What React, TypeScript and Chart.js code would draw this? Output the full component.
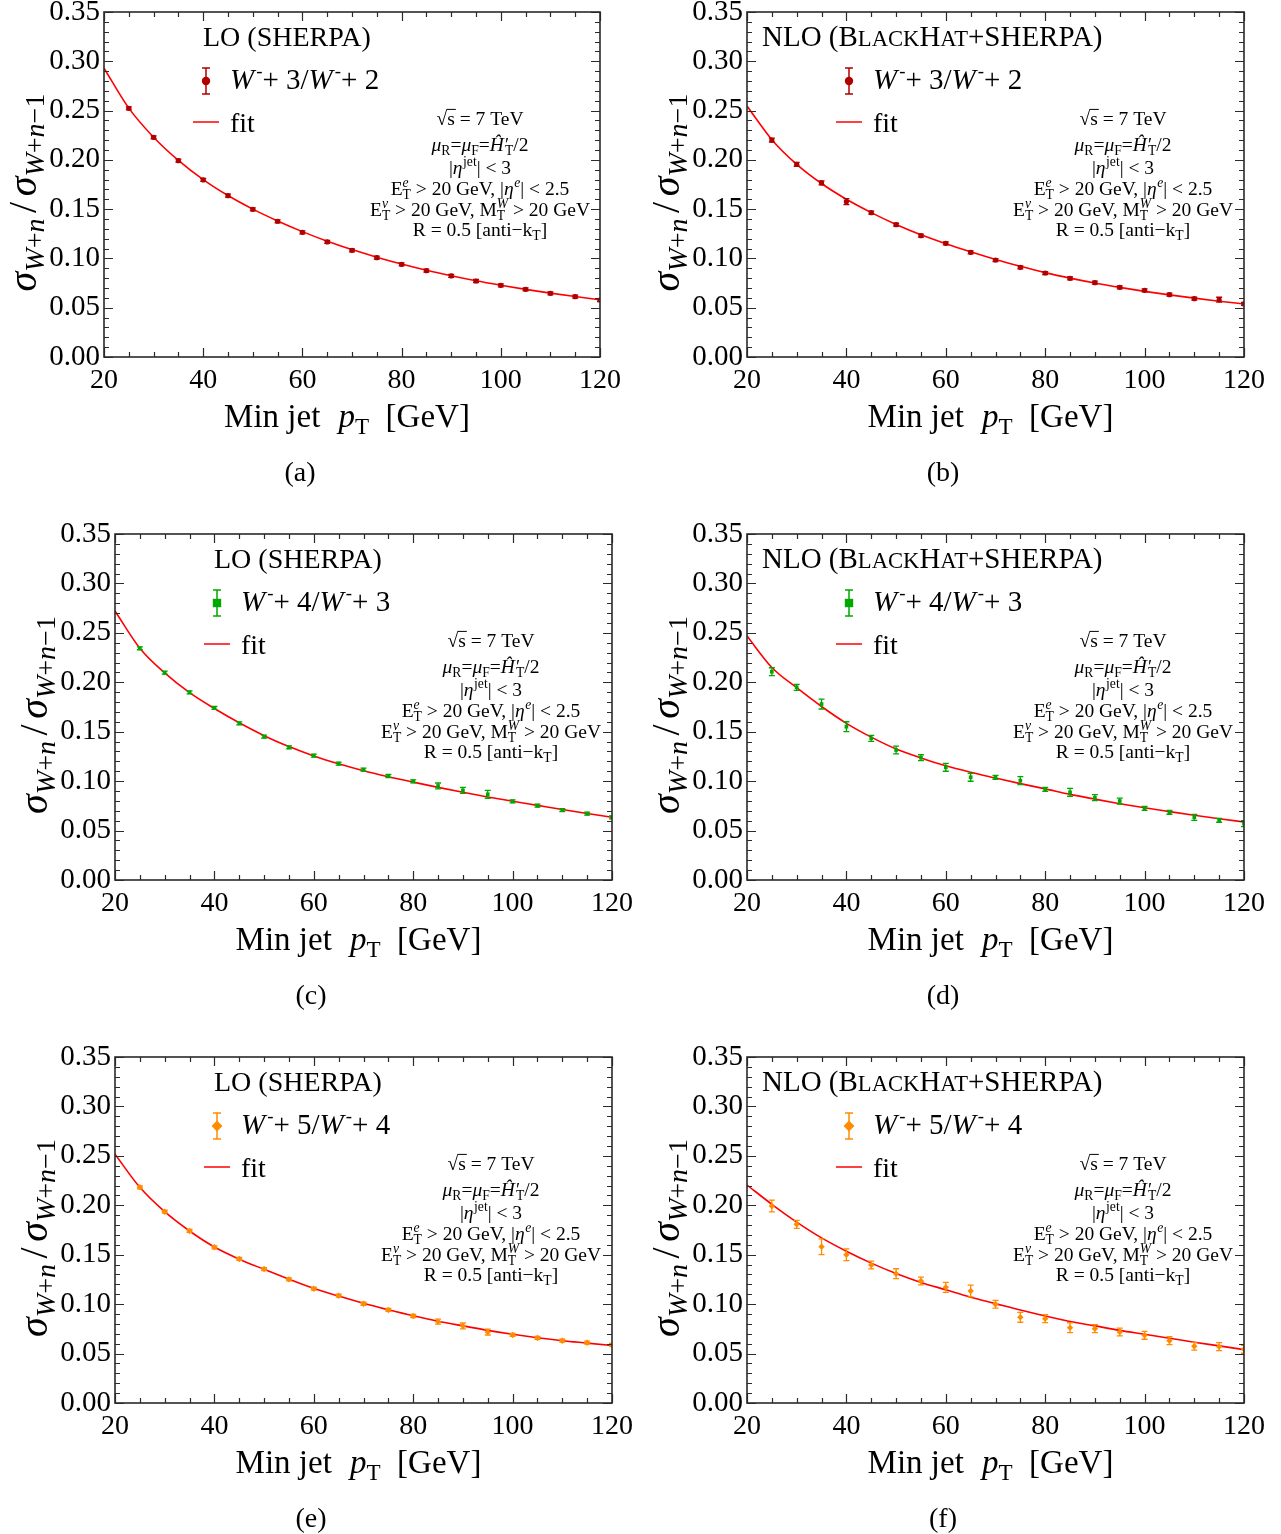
import { useEffect, useRef } from 'react';
import { Chart, registerables } from 'chart.js';
Chart.register(...registerables);

const SERIF = "'Liberation Serif', 'Times New Roman', 'DejaVu Serif', serif";

// ---------- data ----------
const ptX = [25, 30, 35, 40, 45, 50, 55, 60, 65, 70, 75, 80, 85, 90, 95, 100, 105, 110, 115, 120];
const fitX = [20, 25, 30, 35, 40, 45, 50, 55, 60, 65, 70, 75, 80, 85, 90, 95, 100, 105, 110, 115, 120];
const xTicks = [20, 40, 60, 80, 100, 120];
const xTickLabels = ['20', '40', '60', '80', '100', '120'];
const yTicks = [0, 0.05, 0.1, 0.15, 0.2, 0.25, 0.3, 0.35];
const yTickLabels = ['0.00', '0.05', '0.10', '0.15', '0.20', '0.25', '0.30', '0.35'];

// (a) LO W+3/W+2
const lo3 = [0.2523, 0.2229, 0.1992, 0.1796, 0.1637, 0.1498, 0.1377, 0.1265, 0.1167, 0.1082, 0.1008, 0.0940, 0.0876, 0.0822, 0.0771, 0.0727, 0.0687, 0.0646, 0.0612, 0.0578];
const lo3Err = [0.0015, 0.0015, 0.0015, 0.0015, 0.0015, 0.0015, 0.0015, 0.0015, 0.0015, 0.0015, 0.0015, 0.0015, 0.0015, 0.0015, 0.0015, 0.0015, 0.0015, 0.0015, 0.0015, 0.0015];
const lo3Fit = [0.2930, 0.2525, 0.2230, 0.1995, 0.1800, 0.1638, 0.1500, 0.1380, 0.1272, 0.1175, 0.1090, 0.1013, 0.0943, 0.0880, 0.0824, 0.0773, 0.0728, 0.0686, 0.0648, 0.0613, 0.0580];

// (b) NLO W+3/W+2
const nlo3 = [0.2201, 0.1955, 0.1766, 0.1576, 0.1464, 0.1342, 0.1231, 0.1153, 0.1062, 0.0984, 0.0910, 0.0852, 0.0798, 0.0754, 0.0707, 0.0676, 0.0632, 0.0592, 0.0581, 0.0538];
const nlo3Err = [0.002, 0.002, 0.002, 0.003, 0.0015, 0.0015, 0.0015, 0.0015, 0.0015, 0.0015, 0.0015, 0.0015, 0.0015, 0.0015, 0.0015, 0.0015, 0.0015, 0.0015, 0.0025, 0.0015];
const nlo3Fit = [0.2546, 0.2205, 0.1955, 0.1760, 0.1600, 0.1465, 0.1345, 0.1240, 0.1150, 0.1068, 0.0990, 0.0920, 0.0856, 0.0800, 0.0750, 0.0706, 0.0666, 0.0630, 0.0597, 0.0566, 0.0538];

// (c) LO W+4/W+3
const lo4 = [0.2344, 0.2097, 0.1898, 0.1740, 0.1585, 0.1450, 0.1342, 0.1258, 0.1177, 0.1116, 0.1052, 0.0998, 0.0951, 0.0907, 0.0867, 0.0796, 0.0752, 0.0708, 0.0671, 0.0634];
const lo4Err = [0.0015, 0.0015, 0.0015, 0.0015, 0.0015, 0.0015, 0.0015, 0.0015, 0.0015, 0.0015, 0.0015, 0.0015, 0.003, 0.003, 0.004, 0.0015, 0.0015, 0.0015, 0.0015, 0.0015];
const lo4Fit = [0.2721, 0.2345, 0.2095, 0.1895, 0.1735, 0.1590, 0.1460, 0.1350, 0.1255, 0.1175, 0.1105, 0.1045, 0.0990, 0.0937, 0.0887, 0.0840, 0.0797, 0.0755, 0.0713, 0.0673, 0.0635];

// (d) NLO W+4/W+3
const nlo4 = [0.2107, 0.1949, 0.1780, 0.1551, 0.1433, 0.1315, 0.1237, 0.1140, 0.1039, 0.1039, 0.1005, 0.0917, 0.0887, 0.0833, 0.0799, 0.0725, 0.0685, 0.0634, 0.0604, 0.0570];
const nlo4Err = [0.004, 0.003, 0.005, 0.005, 0.003, 0.004, 0.003, 0.004, 0.004, 0.002, 0.004, 0.002, 0.004, 0.003, 0.003, 0.002, 0.002, 0.003, 0.002, 0.003];
const nlo4Fit = [0.2468, 0.2150, 0.1945, 0.1755, 0.1585, 0.1445, 0.1325, 0.1235, 0.1155, 0.1090, 0.1032, 0.0975, 0.0922, 0.0866, 0.0818, 0.0772, 0.0730, 0.0692, 0.0655, 0.0620, 0.0587];

// (e) LO W+5/W+4
const lo5 = [0.2182, 0.1935, 0.1740, 0.1575, 0.1457, 0.1355, 0.1251, 0.1156, 0.1085, 0.1004, 0.0941, 0.0880, 0.0823, 0.0779, 0.0718, 0.0688, 0.0658, 0.0630, 0.0610, 0.0587];
const lo5Err = [0.0015, 0.0015, 0.0015, 0.0015, 0.0015, 0.0015, 0.0015, 0.0015, 0.0015, 0.0015, 0.0015, 0.0015, 0.0025, 0.003, 0.003, 0.0015, 0.0015, 0.0015, 0.0015, 0.0015];
const lo5Fit = [0.2516, 0.2182, 0.1935, 0.1740, 0.1578, 0.1455, 0.1352, 0.1252, 0.1158, 0.1082, 0.1008, 0.0943, 0.0882, 0.0827, 0.0780, 0.0735, 0.0695, 0.0660, 0.0630, 0.0606, 0.0582];

// (f) NLO W+5/W+4
const nlo5 = [0.1993, 0.1807, 0.1581, 0.1500, 0.1396, 0.1308, 0.1234, 0.1170, 0.1133, 0.0999, 0.0867, 0.0853, 0.0762, 0.0752, 0.0718, 0.0685, 0.0630, 0.0574, 0.0570, 0.0543];
const nlo5Err = [0.006, 0.004, 0.008, 0.006, 0.004, 0.005, 0.004, 0.005, 0.006, 0.004, 0.005, 0.004, 0.005, 0.004, 0.004, 0.004, 0.004, 0.004, 0.004, 0.004];
const nlo5Fit = [0.2205, 0.2010, 0.1830, 0.1670, 0.1535, 0.1415, 0.1310, 0.1220, 0.1145, 0.1070, 0.1005, 0.0940, 0.0880, 0.0825, 0.0780, 0.0735, 0.0695, 0.0655, 0.0615, 0.0578, 0.0540];

// ---------- rich text ----------
type Seg = { t?: string; it?: boolean; sc?: number; dy?: number; gap?: number; over?: boolean; sup?: Seg; sub?: Seg };

function fnt(s: Seg, base: number) {
  return `${s.it ? 'italic ' : ''}${(base * (s.sc ?? 1)).toFixed(2)}px ${SERIF}`;
}
function segW(ctx: CanvasRenderingContext2D, s: Seg, base: number): number {
  if (s.sup || s.sub) {
    return Math.max(s.sup ? segW(ctx, s.sup, base) : 0, s.sub ? segW(ctx, s.sub, base) : 0) + (s.gap ?? 0) * base;
  }
  ctx.font = fnt(s, base);
  return ctx.measureText(s.t ?? '').width + (s.gap ?? 0) * base;
}
function drawSeg(ctx: CanvasRenderingContext2D, s: Seg, x: number, y: number, base: number) {
  if (s.sup || s.sub) {
    if (s.sup) drawSeg(ctx, s.sup, x, y, base);
    if (s.sub) drawSeg(ctx, s.sub, x, y, base);
    return;
  }
  ctx.font = fnt(s, base);
  const yy = y + (s.dy ?? 0) * base;
  ctx.fillText(s.t ?? '', x, yy);
  if (s.over) {
    const w = ctx.measureText(s.t ?? '').width;
    ctx.beginPath();
    ctx.lineWidth = 1;
    ctx.strokeStyle = '#000';
    ctx.moveTo(x - 0.5, yy - 0.8 * base);
    ctx.lineTo(x + w + 1, yy - 0.8 * base);
    ctx.stroke();
  }
}
function drawRich(ctx: CanvasRenderingContext2D, segs: Seg[], x: number, y: number, base: number, align: 'left' | 'center') {
  ctx.textAlign = 'left';
  ctx.textBaseline = 'alphabetic';
  ctx.fillStyle = '#000';
  const widths = segs.map((s) => segW(ctx, s, base));
  const total = widths.reduce((a, b) => a + b, 0);
  let cx = align === 'center' ? x - total / 2 : x;
  segs.forEach((s, i) => {
    drawSeg(ctx, s, cx, y, base);
    cx += widths[i];
  });
}

const subT: Seg = { t: 'T', sc: 0.7, dy: 0.22 };
const infoLines: Seg[][] = [
  [{ t: '√' }, { t: 's', over: true }, { t: ' = 7 TeV' }],
  [{ t: 'μ', it: true }, { t: 'R', sc: 0.7, dy: 0.22 }, { t: '=' }, { t: 'μ', it: true }, { t: 'F', sc: 0.7, dy: 0.22 }, { t: '=' }, { t: 'Ĥ', it: true, gap: 0.06 }, { sup: { t: '′', sc: 0.95, dy: -0.02 }, sub: subT }, { t: '/2' }],
  [{ t: '|' }, { t: 'η', it: true, gap: 0.03 }, { t: 'jet', sc: 0.7, dy: -0.42 }, { t: '| < 3' }],
  [{ t: 'E' }, { sup: { t: 'e', it: true, sc: 0.7, dy: -0.42 }, sub: subT }, { t: ' > 20 GeV, |' }, { t: 'η', it: true, gap: 0.03 }, { t: 'e', it: true, sc: 0.7, dy: -0.42 }, { t: '| < 2.5' }],
  [{ t: 'E' }, { sup: { t: 'ν', it: true, sc: 0.7, dy: -0.42 }, sub: subT }, { t: ' > 20 GeV, M' }, { sup: { t: 'W', it: true, sc: 0.7, dy: -0.42 }, sub: subT }, { t: ' > 20 GeV' }],
  [{ t: 'R = 0.5 [anti−k' }, subT, { t: ']' }],
];
const infoBaselines = [113, 139, 162, 183, 204, 224];

const yTitle: Seg[] = [
  { t: 'σ', it: true },
  { t: 'W', it: true, sc: 0.7, dy: 0.2 },
  { t: '+', sc: 0.7, dy: 0.2 },
  { t: 'n', it: true, sc: 0.7, dy: 0.2, gap: 0.14 },
  { t: '/', gap: 0.14 },
  { t: 'σ', it: true },
  { t: 'W', it: true, sc: 0.7, dy: 0.2 },
  { t: '+', sc: 0.7, dy: 0.2 },
  { t: 'n', it: true, sc: 0.7, dy: 0.2 },
  { t: '−1', sc: 0.7, dy: 0.2 },
];
const xTitle: Seg[] = [{ t: 'Min jet', gap: 0.55 }, { t: 'p', it: true }, { t: 'T', sc: 0.7, dy: 0.22, gap: 0.5 }, { t: '[GeV]' }];
const loTitle: Seg[] = [{ t: 'LO (SHERPA)' }];
const nloTitle: Seg[] = [{ t: 'NLO (B' }, { t: 'LACK', sc: 0.78 }, { t: 'H' }, { t: 'AT', sc: 0.78 }, { t: '+SHERPA)' }];
const seriesLabel = (a: string, b: string): Seg[] => [
  { t: 'W', it: true, gap: 0.07 }, { t: '-', sc: 0.65, dy: -0.42 }, { t: '+ ' + a + '/' },
  { t: 'W', it: true, gap: 0.07 }, { t: '-', sc: 0.65, dy: -0.42 }, { t: '+ ' + b },
];

// ---------- panels ----------
type PanelCfg = {
  cx: number; cy: number; cw: number; ch: number;
  L: number; R: number; T: number; B: number;
  caption: string; capX: number; nlo: boolean;
  vals: number[]; errs: number[]; fit: number[];
  color: string; marker: 'circle' | 'rect' | 'rectRot'; label: Seg[];
};

const DARKRED = '#b00000';
const GREEN = '#00a800';
const ORANGE = '#ff8c00';

const panels: PanelCfg[] = [
  { cx: 0, cy: -30, cw: 640, ch: 530, L: 104, R: 600, T: 12, B: 357, caption: '(a)', capX: 300, nlo: false, vals: lo3, errs: lo3Err, fit: lo3Fit, color: DARKRED, marker: 'circle', label: seriesLabel('3', '2') },
  { cx: 640, cy: -30, cw: 641, ch: 530, L: 747, R: 1244, T: 12, B: 357, caption: '(b)', capX: 943, nlo: true, vals: nlo3, errs: nlo3Err, fit: nlo3Fit, color: DARKRED, marker: 'circle', label: seriesLabel('3', '2') },
  { cx: 0, cy: 495, cw: 640, ch: 528, L: 115, R: 612, T: 534, B: 880, caption: '(c)', capX: 311, nlo: false, vals: lo4, errs: lo4Err, fit: lo4Fit, color: GREEN, marker: 'rect', label: seriesLabel('4', '3') },
  { cx: 640, cy: 495, cw: 641, ch: 528, L: 747, R: 1244, T: 534, B: 880, caption: '(d)', capX: 943, nlo: true, vals: nlo4, errs: nlo4Err, fit: nlo4Fit, color: GREEN, marker: 'rect', label: seriesLabel('4', '3') },
  { cx: 0, cy: 1018, cw: 640, ch: 516, L: 115, R: 612, T: 1057, B: 1403, caption: '(e)', capX: 311, nlo: false, vals: lo5, errs: lo5Err, fit: lo5Fit, color: ORANGE, marker: 'rectRot', label: seriesLabel('5', '4') },
  { cx: 640, cy: 1018, cw: 641, ch: 516, L: 747, R: 1244, T: 1057, B: 1403, caption: '(f)', capX: 943, nlo: true, vals: nlo5, errs: nlo5Err, fit: nlo5Fit, color: ORANGE, marker: 'rectRot', label: seriesLabel('5', '4') },
];

function drawMarker(ctx: CanvasRenderingContext2D, style: string, x: number, y: number, r: number, color: string) {
  ctx.fillStyle = color;
  ctx.beginPath();
  if (style === 'circle') {
    ctx.arc(x, y, r, 0, Math.PI * 2);
  } else if (style === 'rect') {
    ctx.rect(x - r, y - r, 2 * r, 2 * r);
  } else {
    const d = r * 1.3;
    ctx.moveTo(x, y - d); ctx.lineTo(x + d, y); ctx.lineTo(x, y + d); ctx.lineTo(x - d, y); ctx.closePath();
  }
  ctx.fill();
}

function makeDecor(p: PanelCfg) {
  return {
    id: 'decor' + p.caption,
    afterDatasetsDraw(chart: any) {
      const ctx: CanvasRenderingContext2D = chart.ctx;
      const { left, right, top, bottom } = chart.chartArea;
      const xs = chart.scales.x;
      const ys = chart.scales.y;
      // error bars
      ctx.save();
      ctx.beginPath();
      ctx.rect(left, top, right - left, bottom - top);
      ctx.clip();
      ctx.strokeStyle = p.color;
      ctx.lineWidth = 1.3;
      p.vals.forEach((v, i) => {
        const px = xs.getPixelForValue(ptX[i]);
        const y1 = ys.getPixelForValue(v - p.errs[i]);
        const y2 = ys.getPixelForValue(v + p.errs[i]);
        ctx.beginPath();
        ctx.moveTo(px, y1); ctx.lineTo(px, y2);
        ctx.moveTo(px - 3, y1); ctx.lineTo(px + 3, y1);
        ctx.moveTo(px - 3, y2); ctx.lineTo(px + 3, y2);
        ctx.stroke();
      });
      ctx.restore();

      // frame and ticks
      ctx.save();
      ctx.strokeStyle = '#2a2a2a';
      ctx.lineWidth = 1.2;
      ctx.beginPath();
      for (let k = 0; k <= 20; k++) {
        const v = 20 + k * 5;
        const px = Math.round(xs.getPixelForValue(v)) + 0.5;
        const len = k % 4 === 0 ? 9 : 5;
        ctx.moveTo(px, bottom); ctx.lineTo(px, bottom - len);
        ctx.moveTo(px, top); ctx.lineTo(px, top + len);
      }
      for (let k = 0; k <= 35; k++) {
        const py = Math.round(ys.getPixelForValue(k / 100)) + 0.5;
        const len = k % 5 === 0 ? 9 : 5;
        ctx.moveTo(left, py); ctx.lineTo(left + len, py);
        ctx.moveTo(right, py); ctx.lineTo(right - len, py);
      }
      ctx.stroke();
      ctx.lineWidth = 1.6;
      ctx.strokeRect(left, top, right - left, bottom - top);
      ctx.restore();
    },
    afterDraw(chart: any) {
      const ctx: CanvasRenderingContext2D = chart.ctx;
      const { left, right, top, bottom } = chart.chartArea;
      ctx.save();
      // y title
      ctx.save();
      ctx.translate(left - 68, (top + bottom) / 2 + 8);
      ctx.rotate(-Math.PI / 2);
      drawRich(ctx, yTitle, 0, 0, 40, 'center');
      ctx.restore();
      // x title
      drawRich(ctx, xTitle, (left + right) / 2 - 5, bottom + 70, 33, 'center');
      // caption
      drawRich(ctx, [{ t: p.caption }], p.capX - p.cx, bottom + 124, 28, 'center');
      // legend
      if (p.nlo) drawRich(ctx, nloTitle, left + 15, top + 34, 29, 'left');
      else drawRich(ctx, loTitle, left + 99, top + 34, 28, 'left');
      const mx = left + 102;
      const my = top + 69;
      ctx.strokeStyle = p.color;
      ctx.lineWidth = 1.5;
      ctx.beginPath();
      ctx.moveTo(mx, my - 13); ctx.lineTo(mx, my + 13);
      ctx.moveTo(mx - 4, my - 13); ctx.lineTo(mx + 4, my - 13);
      ctx.moveTo(mx - 4, my + 13); ctx.lineTo(mx + 4, my + 13);
      ctx.stroke();
      drawMarker(ctx, p.marker, mx, my, 4.2, p.color);
      drawRich(ctx, p.label, left + 126, top + 77, 29, 'left');
      ctx.strokeStyle = '#ff0000';
      ctx.lineWidth = 1.5;
      ctx.beginPath();
      ctx.moveTo(left + 89, top + 110); ctx.lineTo(left + 115, top + 110);
      ctx.stroke();
      drawRich(ctx, [{ t: 'fit' }], left + 126, top + 120, 28, 'left');
      // info block
      infoLines.forEach((line, i) => drawRich(ctx, line, left + 376, top + infoBaselines[i], 19.5, 'center'));
      ctx.restore();
    },
  };
}

function Panel({ p }: { p: PanelCfg }) {
  const ref = useRef<HTMLCanvasElement>(null);
  useEffect(() => {
    const YW = 60;
    const XH = 60;
    const chart = new Chart(ref.current!, {
      type: 'line',
      data: {
        datasets: [
          {
            label: 'points',
            data: ptX.map((x, i) => ({ x, y: p.vals[i] })),
            showLine: false,
            pointStyle: p.marker,
            pointRadius: p.marker === 'rectRot' ? 3.2 : 2.6,
            pointBackgroundColor: p.color,
            pointBorderColor: p.color,
            pointBorderWidth: 0,
            borderColor: p.color,
            order: 0,
          } as any,
          {
            label: 'fit',
            data: fitX.map((x, i) => ({ x, y: p.fit[i] })),
            borderColor: '#ff0000',
            borderWidth: 1.6,
            pointRadius: 0,
            cubicInterpolationMode: 'monotone',
            fill: false,
            order: 1,
          } as any,
        ],
      },
      options: {
        responsive: false,
        animation: false,
        devicePixelRatio: 1,
        layout: {
          autoPadding: false,
          padding: {
            left: p.L - p.cx - YW,
            right: p.cx + p.cw - p.R,
            top: p.T - p.cy,
            bottom: p.cy + p.ch - p.B - XH,
          },
        } as any,
        plugins: { legend: { display: false }, tooltip: { enabled: false } },
        scales: {
          x: {
            type: 'linear',
            min: 20,
            max: 120,
            grid: { display: false, drawTicks: false },
            border: { display: false },
            ticks: {
              autoSkip: false,
              maxRotation: 0,
              minRotation: 0,
              padding: 7,
              color: '#000',
              font: { family: SERIF, size: 28 },
              callback: (_v: any, i: number) => xTickLabels[i],
            },
            afterBuildTicks: (s: any) => { s.ticks = xTicks.map((v) => ({ value: v })); },
            afterFit: (s: any) => { s.height = XH; },
          },
          y: {
            type: 'linear',
            min: 0,
            max: 0.35,
            grid: { display: false, drawTicks: false },
            border: { display: false },
            ticks: {
              autoSkip: false,
              padding: 4,
              color: '#000',
              font: { family: SERIF, size: 29 },
              callback: (_v: any, i: number) => yTickLabels[i],
            },
            afterBuildTicks: (s: any) => { s.ticks = yTicks.map((v) => ({ value: v })); },
            afterFit: (s: any) => { s.width = YW; },
          },
        } as any,
      },
      plugins: [makeDecor(p)],
    });
    return () => chart.destroy();
  }, [p]);
  return (
    <canvas
      ref={ref}
      width={p.cw}
      height={p.ch}
      style={{ position: 'absolute', left: p.cx, top: p.cy, width: p.cw, height: p.ch }}
    />
  );
}

export default function App() {
  return (
    <div style={{ position: 'absolute', left: 0, top: 0, width: 1281, height: 1534, background: '#fff', overflow: 'hidden' }}>
      {panels.map((p) => (
        <Panel key={p.caption} p={p} />
      ))}
    </div>
  );
}
